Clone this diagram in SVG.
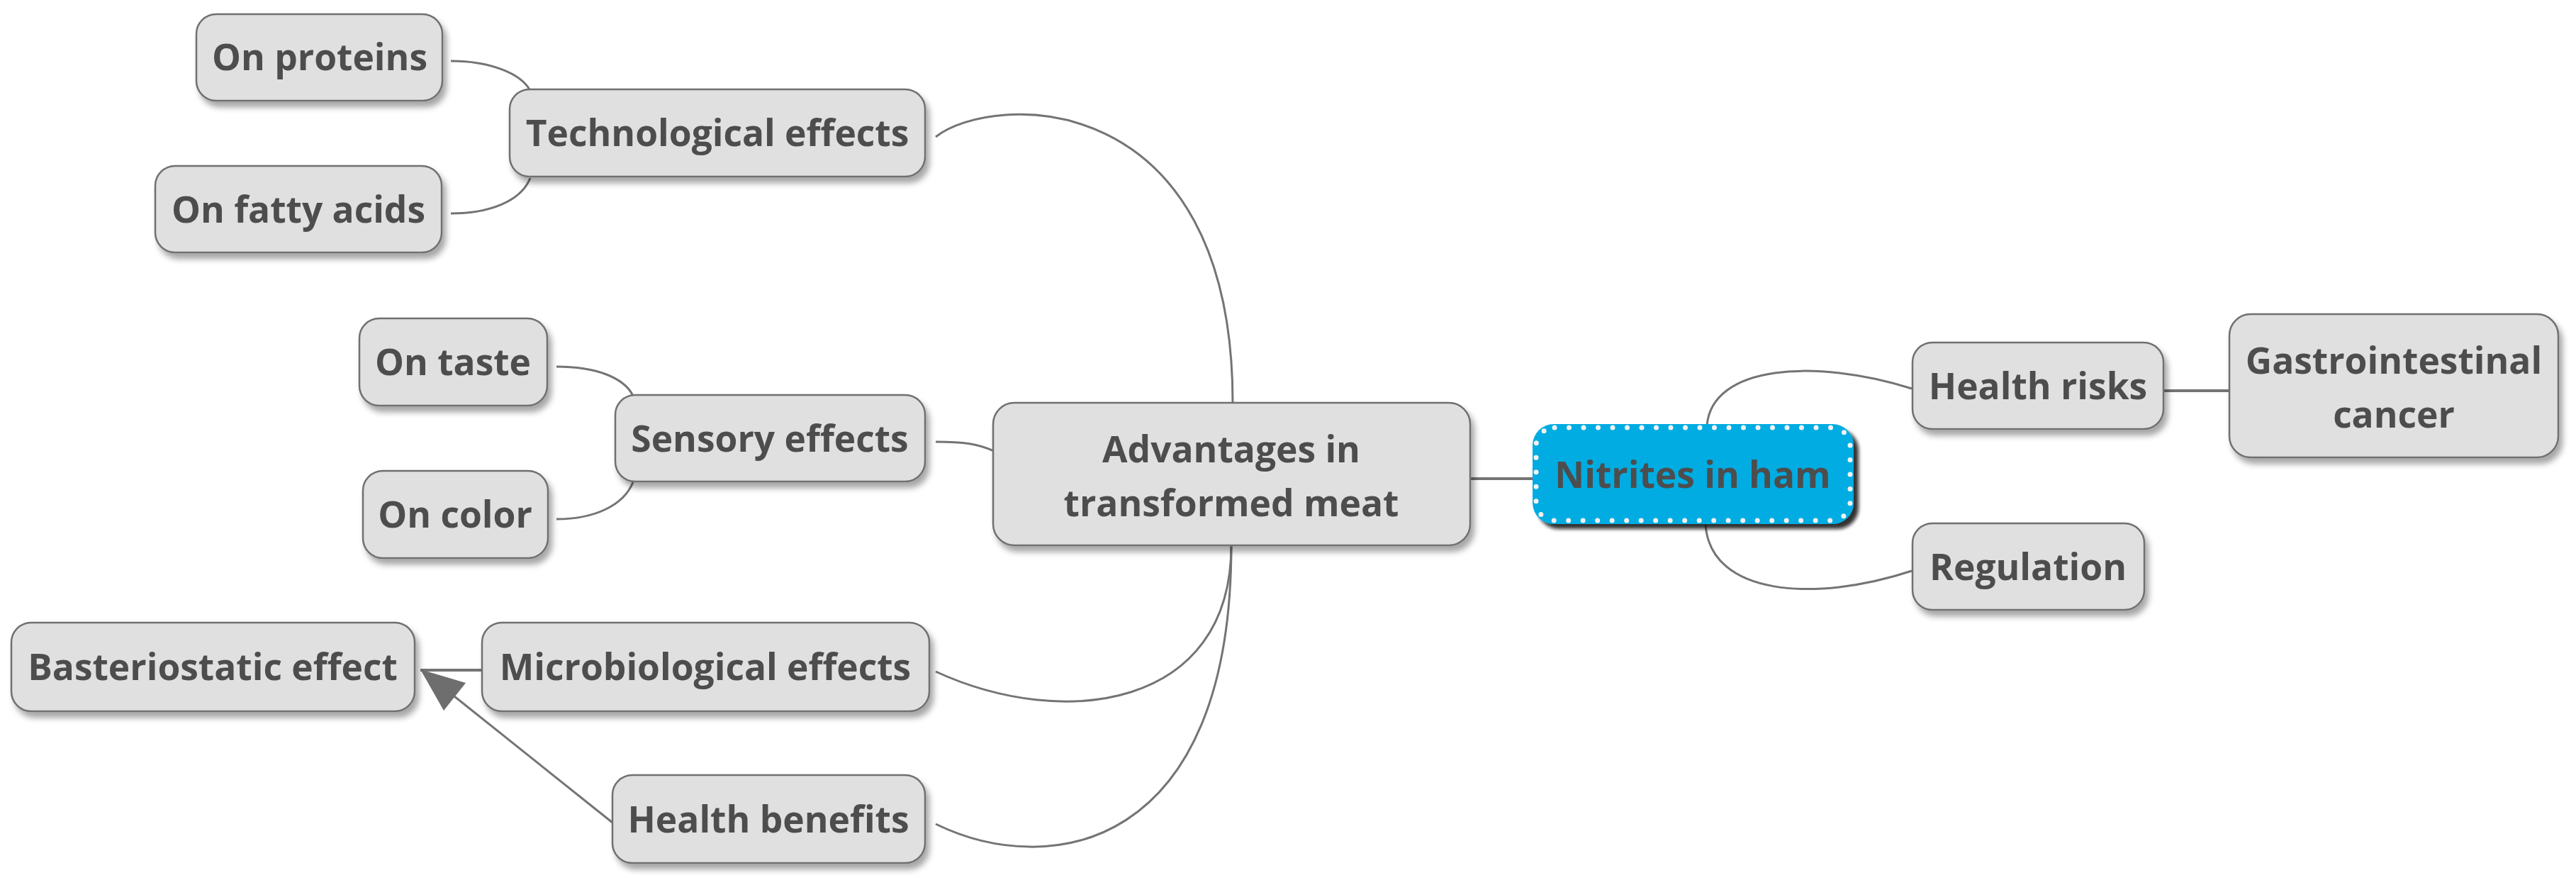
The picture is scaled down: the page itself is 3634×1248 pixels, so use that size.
<svg xmlns="http://www.w3.org/2000/svg" width="3634" height="1248" viewBox="0 0 3634 1248">
<defs>
<filter id="sh" x="-10%" y="-20%" width="130%" height="150%">
<feDropShadow dx="5" dy="8" stdDeviation="4" flood-color="#000" flood-opacity="0.35"/>
</filter>
<filter id="shd" x="-10%" y="-20%" width="130%" height="150%">
<feDropShadow dx="7" dy="7" stdDeviation="2.5" flood-color="#111" flood-opacity="0.85"/>
</filter>
<style>
.box{fill:#e0e0e0;stroke:#707070;stroke-width:2.5;filter:url(#sh)}
.t{font-family:"Open Sans","Noto Sans","DejaVu Sans",sans-serif;font-weight:bold;font-size:51.5px;fill:#4d4d4d;text-anchor:middle}
.c{fill:none;stroke:#747474;stroke-width:3}
.s{fill:none;stroke:#747474;stroke-width:4}
</style>
</defs>
<rect width="3634" height="1248" fill="#fff"/>
<g id="connectors">
<path class="c" d="M636,86 C690,86 735,103 748,128"/>
<path class="c" d="M636,301 C690,301 735,284 748,251"/>
<path class="c" d="M785,517 C840,517 880,532 893,558"/>
<path class="c" d="M785,732 C840,732 880,712 893,680"/>
<path class="c" d="M1320,193 C1400,130 1739,120 1739,568"/>
<path class="c" d="M1320,623 C1360,623 1380,626 1402,636"/>
<path class="c" d="M1320,947 C1500,1030 1737,1000 1737,769"/>
<path class="c" d="M1320,1162 C1480,1240 1737,1200 1737,769"/>
<path class="s" d="M2074,675 L2163,675"/>
<path class="c" d="M2408,600 C2415,515 2560,505 2697,548"/>
<path class="c" d="M2406,740 C2413,840 2560,850 2697,805"/>
<path class="s" d="M3052,551 L3145,551"/>
<path class="s" d="M680,945 L593,945"/>
<path class="c" d="M864,1160 L636,978"/>
<polygon points="593,944 657,963 626,1002" fill="#6e6e6e"/>
</g>
<g id="n-proteins"><rect class="box" x="277" y="20" width="347" height="122" rx="28"/><text class="t" x="451" y="99">On proteins</text></g>
<g id="n-tech"><rect class="box" x="719" y="126" width="586" height="123" rx="28"/><text class="t" x="1012" y="206">Technological effects</text></g>
<g id="n-fatty"><rect class="box" x="219" y="234" width="404" height="122" rx="28"/><text class="t" x="421" y="314">On fatty acids</text></g>
<g id="n-taste"><rect class="box" x="507" y="449" width="265" height="123" rx="28"/><text class="t" x="639" y="529">On taste</text></g>
<g id="n-sensory"><rect class="box" x="868" y="557" width="437" height="122" rx="28"/><text class="t" x="1086" y="637">Sensory effects</text></g>
<g id="n-color"><rect class="box" x="512" y="664" width="261" height="123" rx="28"/><text class="t" x="642" y="744">On color</text></g>
<g id="n-bacterio"><rect class="box" x="16" y="878" width="569" height="125" rx="28"/><text class="t" x="300" y="959">Basteriostatic effect</text></g>
<g id="n-micro"><rect class="box" x="680" y="878" width="631" height="125" rx="28"/><text class="t" x="995" y="959">Microbiological effects</text></g>
<g id="n-healthben"><rect class="box" x="864" y="1093" width="441" height="124" rx="28"/><text class="t" x="1084" y="1174">Health benefits</text></g>
<g id="n-advantages"><rect class="box" x="1401" y="568" width="673" height="201" rx="30"/><text class="t" x="1737" y="652">Advantages in</text><text class="t" x="1737" y="728">transformed meat</text></g>
<g id="n-nitrites"><rect x="2162" y="598" width="453" height="141" rx="30" fill="#00ace1" filter="url(#shd)"/><rect x="2167" y="603" width="443" height="131" rx="26" fill="none" stroke="#f2f2f2" stroke-width="7" stroke-linecap="round" stroke-dasharray="0 20.5"/><text class="t" x="2388" y="688">Nitrites in ham</text></g>
<g id="n-healthrisks"><rect class="box" x="2698" y="483" width="354" height="122" rx="28"/><text class="t" x="2875" y="563">Health risks</text></g>
<g id="n-gastro"><rect class="box" x="3145" y="443" width="464" height="202" rx="30"/><text class="t" x="3377" y="527">Gastrointestinal</text><text class="t" x="3377" y="603">cancer</text></g>
<g id="n-regulation"><rect class="box" x="2698" y="738" width="327" height="122" rx="28"/><text class="t" x="2861" y="818">Regulation</text></g>
</svg>
